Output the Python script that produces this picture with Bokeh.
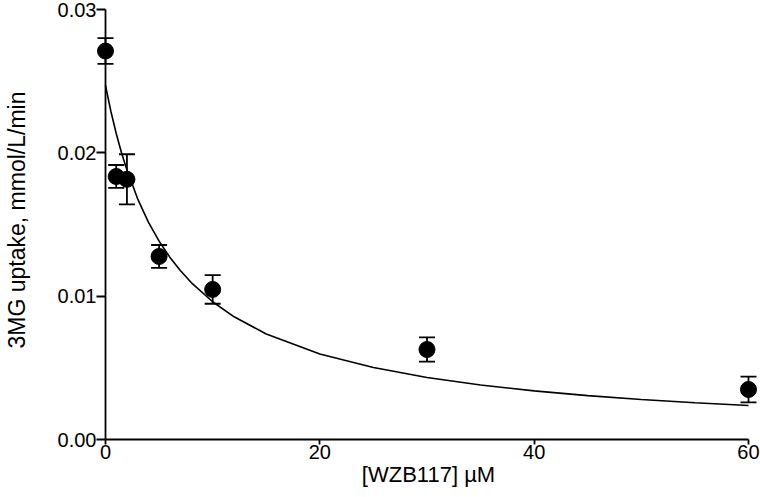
from bokeh.plotting import figure
from bokeh.models import ColumnDataSource, Range1d, FixedTicker, Whisker, TeeHead
from bokeh.embed import file_html
from bokeh.resources import INLINE

# ---- data ----
conc = [0, 1, 2, 5, 10, 30, 60]
uptake = [0.0271, 0.01835, 0.01815, 0.01277, 0.01047, 0.00628, 0.00349]
sem = [0.0009, 0.0008, 0.00175, 0.0008, 0.0010, 0.00084, 0.0009]

curve_x = [0, 0.5, 1, 1.5, 2, 3, 4, 5, 6, 7, 8, 10, 12, 15, 20, 25, 30, 35, 40, 45, 50, 55, 60]
curve_y = [0.0247, 0.0229, 0.02135, 0.01999, 0.0188, 0.01679, 0.01517, 0.01384, 0.01272,
           0.01177, 0.01095, 0.00961, 0.00856, 0.00736, 0.00597, 0.00502, 0.00433,
           0.0038, 0.00339, 0.00306, 0.00279, 0.00256, 0.00237]

x_ticks = [0, 20, 40, 60]
x_tick_labels = ["0", "20", "40", "60"]
y_ticks = [0, 0.01, 0.02, 0.03]
y_tick_labels = ["0.00", "0.01", "0.02", "0.03"]

x_title = "[WZB117] µM"
y_title = "3MG uptake, mmol/L/min"

FONT = "Liberation Sans"

upper = [u + s for u, s in zip(uptake, sem)]
lower = [u - s for u, s in zip(uptake, sem)]
src = ColumnDataSource(dict(x=conc, y=uptake, upper=upper, lower=lower))

p = figure(width=760, height=497, output_backend="svg", toolbar_location=None,
           x_range=Range1d(-0.84, 61.12), y_range=Range1d(0, 0.030628),
           min_border_left=96, min_border_right=0, min_border_top=0, min_border_bottom=58)
p.outline_line_color = None
p.xgrid.visible = False
p.ygrid.visible = False
p.background_fill_color = "white"
p.border_fill_color = "white"

# y axis line drawn at x = 0 (the frame starts a little left of 0 so markers are not cut)
p.segment(x0=[x_ticks[0]], y0=[y_ticks[0]], x1=[x_ticks[0]], y1=[y_ticks[-1]],
          line_color="black", line_width=1.8)

# fitted curve
p.line(curve_x, curve_y, line_color="black", line_width=1.6)

# error bars
w = Whisker(source=src, base="x", upper="upper", lower="lower",
            line_color="black", line_width=1.8,
            upper_head=TeeHead(size=16, line_color="black", line_width=1.8),
            lower_head=TeeHead(size=16, line_color="black", line_width=1.8))
p.add_layout(w)

# points
p.scatter("x", "y", source=src, size=16, marker="circle",
          fill_color="black", line_color="black")

for ax in (p.xaxis[0], p.yaxis[0]):
    ax.axis_line_color = "black"
    ax.axis_line_width = 1.8
    ax.major_tick_line_color = "black"
    ax.major_tick_line_width = 1.8
    ax.minor_tick_line_color = None
    ax.major_label_text_font = FONT
    ax.major_label_text_font_size = "20px"
    ax.major_label_text_color = "black"
    ax.axis_label_text_font = FONT
    ax.axis_label_text_font_style = "normal"
    ax.axis_label_text_color = "black"

p.xaxis.ticker = FixedTicker(ticks=x_ticks)
p.xaxis.major_label_overrides = {t: l for t, l in zip(x_ticks, x_tick_labels)}
p.xaxis.bounds = (x_ticks[0], x_ticks[-1])
p.xaxis.major_tick_in = 0
p.xaxis.major_tick_out = 5
p.xaxis.major_label_standoff = 0
p.xaxis.axis_label = x_title
p.xaxis.axis_label_text_font_size = "22px"
p.xaxis.axis_label_standoff = 0

p.yaxis.ticker = FixedTicker(ticks=y_ticks)
p.yaxis.major_label_overrides = {t: l for t, l in zip(y_ticks, y_tick_labels)}
p.yaxis.axis_line_color = None
p.yaxis.major_tick_in = 9
p.yaxis.major_tick_out = 0
p.yaxis.major_label_standoff = 0
p.yaxis.axis_label = y_title
p.yaxis.axis_label_text_font_size = "23px"
p.yaxis.axis_label_standoff = 25

open("out.html", "w").write(file_html(p, INLINE))
